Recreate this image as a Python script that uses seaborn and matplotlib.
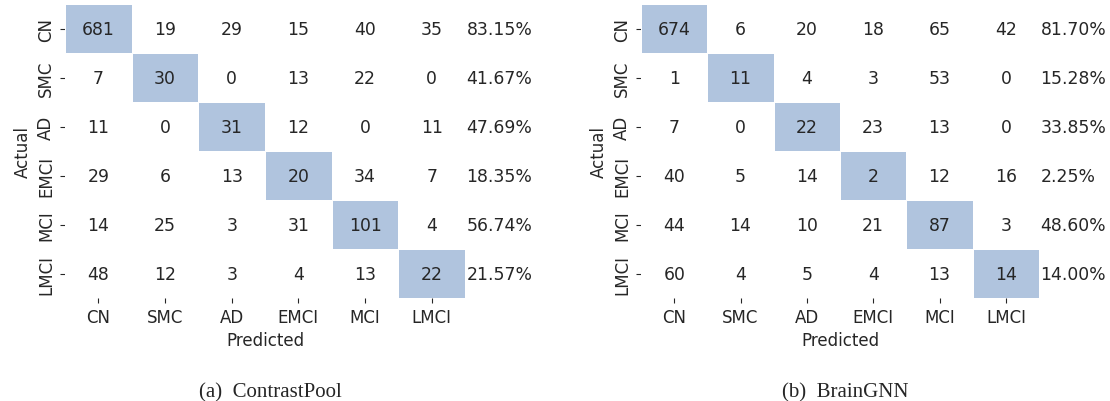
import numpy as np
import matplotlib
matplotlib.use("Agg")
import matplotlib.pyplot as plt
from matplotlib.colors import ListedColormap
import seaborn as sns

labels = ["CN", "SMC", "AD", "EMCI", "MCI", "LMCI"]

contrastpool_cm = [
    [681, 19, 29, 15, 40, 35],
    [7, 30, 0, 13, 22, 0],
    [11, 0, 31, 12, 0, 11],
    [29, 6, 13, 20, 34, 7],
    [14, 25, 3, 31, 101, 4],
    [48, 12, 3, 4, 13, 22],
]
contrastpool_acc = ["83.15%", "41.67%", "47.69%", "18.35%", "56.74%", "21.57%"]

braingnn_cm = [
    [674, 6, 20, 18, 65, 42],
    [1, 11, 4, 3, 53, 0],
    [7, 0, 22, 23, 13, 0],
    [40, 5, 14, 2, 12, 16],
    [44, 14, 10, 21, 87, 3],
    [60, 4, 5, 4, 13, 14],
]
braingnn_acc = ["81.70%", "15.28%", "33.85%", "2.25%", "48.60%", "14.00%"]

captions = ["(a)  ContrastPool", "(b)  BrainGNN"]

sns.set_style("ticks")
plt.rcParams["font.family"] = ["DejaVu Sans"]
fs = 12
fs_annot = 12.4

fig = plt.figure(figsize=(11.1, 4.02), dpi=100)
positions = [[0.0586, 0.2562, 0.3604, 0.7313], [0.5775, 0.2562, 0.3586, 0.7313]]
cmap = ListedColormap(["white", "lightsteelblue"])

panels = [(contrastpool_cm, contrastpool_acc), (braingnn_cm, braingnn_acc)]
for pos, (cm, acc), cap in zip(positions, panels, captions):
    ax = fig.add_axes(pos)
    cm = np.array(cm)
    diag = np.eye(len(labels))
    sns.heatmap(diag, annot=cm, fmt="d", cmap=cmap, cbar=False,
                linewidths=0.5, linecolor="white",
                xticklabels=labels, yticklabels=labels,
                annot_kws={"fontsize": fs_annot, "color": "#262626"}, ax=ax)
    for i, a in enumerate(acc):
        ax.text(6.02, i + 0.5, a, ha="left", va="center", fontsize=fs_annot, color="#262626")
    ax.tick_params(axis="both", labelsize=fs, length=3.5, width=0.8,
                   color="#262626", left=True, bottom=True)
    ax.set_xlabel("Predicted", fontsize=fs)
    ax.set_ylabel("Actual", fontsize=fs)
    ax.set_yticklabels(labels, rotation=90, va="center")
    ax.set_xticklabels(labels, rotation=0)
    cx = pos[0] + pos[2] / 2 + 0.005
    fig.text(cx, 0.0, cap, ha="center", va="bottom", fontsize=15,
             family="Liberation Serif")

fig.savefig("out.png", dpi=100)
